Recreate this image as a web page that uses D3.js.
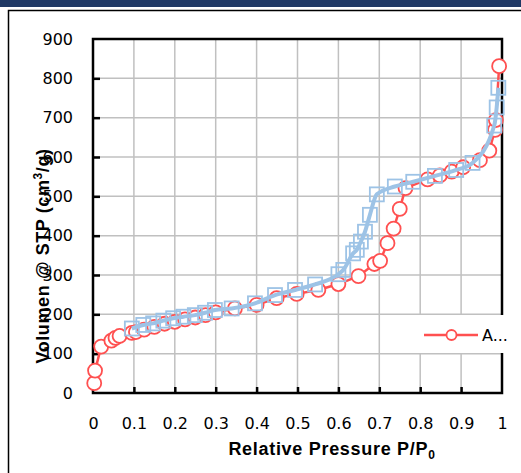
<!DOCTYPE html>
<html><head><meta charset="utf-8">
<script src="https://cdn.jsdelivr.net/npm/d3@7"></script>
<style>body{margin:0;background:#fff}svg{display:block}</style>
</head><body><svg id="c" width="521" height="473"></svg>
<script>
// Adsorption (red circles)
const adsP = [0.003,0.005,0.02,0.045,0.055,0.065,0.095,0.105,0.125,0.15,0.175,0.2,0.225,0.25,0.275,0.3,0.347,0.4,0.449,0.498,0.551,0.6,0.649,0.688,0.702,0.72,0.735,0.75,0.764,0.818,0.848,0.877,0.905,0.946,0.969,0.983,0.985,0.993];
const adsV = [25,57,118,133,140,145,153,155,161,168,176,181,187,192,198,205,215,224,241,252,262,277,297,328,336,381,418,468,521,543,553,563,574,592,616,669,694,831];
// Desorption (blue squares)
const desP = [0.991,0.987,0.981,0.928,0.888,0.836,0.783,0.738,0.694,0.677,0.665,0.655,0.645,0.636,0.612,0.6,0.543,0.494,0.445,0.396,0.339,0.298,0.274,0.249,0.221,0.196,0.172,0.147,0.123,0.095];
const desV = [776,726,680,585,567,552,537,525,505,453,410,385,364,355,313,302,276,262,249,228,215,211,204,198,194,190,184,177,173,164];
const xTicks = [0,0.1,0.2,0.3,0.4,0.5,0.6,0.7,0.8,0.9,1];
const yTicks = [0,100,200,300,400,500,600,700,800,900];
const legendLabel = "A...";

const svg = d3.select("#c");
const x = d3.scaleLinear().domain([0,1]).range([93,502]);
const y = d3.scaleLinear().domain([0,900]).range([393,39]);
const red = "#ff5050", blue = "#9dc3e6";
const font = "DejaVu Sans, sans-serif";
const tfont = "Liberation Sans, Arial, sans-serif";

// top bar and outer frame
svg.append("rect").attr("x",0).attr("y",0).attr("width",521).attr("height",7).attr("fill","#1f3864");
svg.append("path").attr("d","M8.5,473V10.5H521").attr("fill","none").attr("stroke","#000").attr("stroke-width",1.5);

// gridlines
svg.append("g").selectAll("line").data(xTicks.slice(1,-1)).join("line")
  .attr("x1",d=>x(d)).attr("x2",d=>x(d)).attr("y1",y(900)).attr("y2",y(0))
  .attr("stroke","#c0c0c0").attr("stroke-width",1.5);
svg.append("g").selectAll("line").data(yTicks.slice(1,-1)).join("line")
  .attr("y1",d=>y(d)).attr("y2",d=>y(d)).attr("x1",x(0)).attr("x2",x(1))
  .attr("stroke","#c0c0c0").attr("stroke-width",1.5);

// frame
svg.append("rect").attr("x",x(0)).attr("y",y(900)).attr("width",x(1)-x(0)).attr("height",y(0)-y(900))
  .attr("fill","none").attr("stroke","#000").attr("stroke-width",2.5);

// axes
const xAxis = svg.append("g").attr("transform",`translate(0,${y(0)})`)
  .call(d3.axisBottom(x).tickValues(xTicks).tickSize(-6).tickPadding(25).tickFormat(d3.format("~g")));
const yAxis = svg.append("g").attr("transform",`translate(${x(0)},0)`)
  .call(d3.axisLeft(y).tickValues(yTicks).tickSize(-7).tickPadding(20));
[xAxis,yAxis].forEach(a=>{
  a.select(".domain").remove();
  a.selectAll(".tick line").attr("stroke","#000").attr("stroke-width",2.5);
  a.selectAll(".tick text").attr("font-family",font).attr("font-size",16).attr("fill","#000");
});
xAxis.selectAll(".tick line").filter(d=>d===0||d===1).remove();
yAxis.selectAll(".tick line").filter(d=>d===0||d===900).remove();

// series
const ads = adsP.map((p,i)=>[p,adsV[i]]);
const des = desP.map((p,i)=>[p,desV[i]]);
svg.append("path").datum(ads).attr("fill","none").attr("stroke",red).attr("stroke-width",2.5)
  .attr("d",d3.line().x(d=>x(d[0])).y(d=>y(d[1])));
svg.append("g").selectAll("circle").data(ads).join("circle")
  .attr("cx",d=>x(d[0])).attr("cy",d=>y(d[1])).attr("r",7)
  .attr("fill","#fff").attr("stroke",red).attr("stroke-width",1.8);
const desSorted = des.slice().sort((a,b)=>a[0]-b[0]);
svg.append("path").datum(desSorted).attr("fill","none").attr("stroke",blue).attr("stroke-width",4)
  .attr("d",d3.line().x(d=>x(d[0])).y(d=>y(d[1])).curve(d3.curveMonotoneX));
svg.append("g").selectAll("rect").data(des).join("rect")
  .attr("x",d=>x(d[0])-7).attr("y",d=>y(d[1])-7).attr("width",14).attr("height",14)
  .attr("fill","none").attr("stroke",blue).attr("stroke-width",1.8);

// legend
const lg = svg.append("g");
lg.append("rect").attr("x",407).attr("y",315).attr("width",110).attr("height",38).attr("fill","#fff");
lg.append("line").attr("x1",424).attr("x2",478).attr("y1",335).attr("y2",335).attr("stroke",red).attr("stroke-width",2.5);
lg.append("circle").attr("cx",451.5).attr("cy",335).attr("r",5).attr("fill","#fff").attr("stroke",red).attr("stroke-width",1.8);
lg.append("text").attr("x",482).attr("y",341).attr("font-family",font).attr("font-size",16).text(legendLabel);

// axis titles
const xt = svg.append("text").attr("x",332).attr("y",455).attr("text-anchor","middle")
  .attr("font-family",tfont).attr("font-weight","bold").attr("font-size",18).attr("letter-spacing",0.7);
xt.append("tspan").text("Relative Pressure P/P");
xt.append("tspan").attr("font-size",12).attr("dy",4).text("0");
const yt = svg.append("text").attr("transform","translate(49,256) rotate(-90)").attr("text-anchor","middle")
  .attr("font-family",tfont).attr("font-weight","bold").attr("font-size",18).attr("letter-spacing",0.6);
yt.append("tspan").text("Volumen @ STP (cm");
yt.append("tspan").attr("font-size",12).attr("dy",-7).text("3");
yt.append("tspan").attr("dy",7).text("/g)");
</script></body></html>
